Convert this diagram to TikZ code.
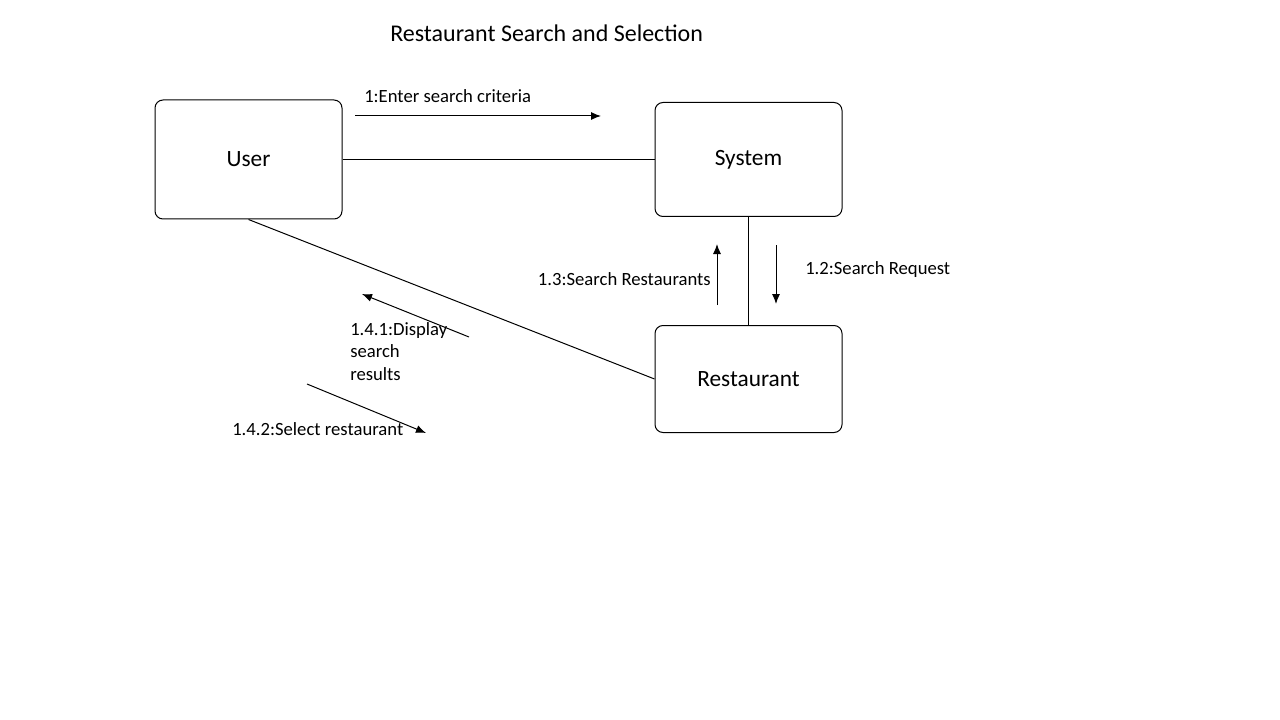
\documentclass[tikz,border=0pt]{standalone}
\usepackage{fontspec}
\setmainfont{Carlito}
\usepackage{tikz}
\usetikzlibrary{positioning, arrows.meta}

\begin{document}
\begin{tikzpicture}[x=0.75pt, y=-0.75pt,
				ObjNode/.style={rectangle, rounded corners=6pt, draw=black, line width=0.75pt, minimum width=140.25pt, font=\fontsize{17.5}{20}\selectfont},
				MsgArrow/.style={line width=0.75pt, -{Latex[length=7.5pt, width=6pt]}},
				MsgLabel/.style={inner sep=0pt, font=\fontsize{14}{17}\selectfont}]

			\useasboundingbox (0,0) rectangle (1280,720);

			% Nodes
			\node[ObjNode, minimum height=89.25pt] (User) at (248.5,159.5) {User};
			\node[ObjNode, minimum height=85.5pt, right=234pt of User.east, anchor=west] (System) {System};
			\node[ObjNode, minimum height=80.25pt, below=81pt of System] (Restaurant) {Restaurant};

			\node[MsgLabel, anchor=west, font=\fontsize{18}{21}\selectfont] (Title) at (390,33) {Restaurant Search and Selection};

			% Lines
			\draw[line width=0.75pt] (User.east) to (System.west);
			\draw[line width=0.75pt] (System.south) to (Restaurant.north);
			\draw[line width=0.75pt] (User.south) to (Restaurant.west);

			% Messages
			\coordinate (M1a) at (355,116);
			\coordinate (M1b) at (601,116);
			\draw[MsgArrow] (M1a) to (M1b);
			\node[MsgLabel, anchor=west] (L1) at (364,96) {1:Enter search criteria};

			\coordinate (M12a) at (776,245);
			\coordinate (M12b) at (776,304);
			\draw[MsgArrow] (M12a) to (M12b);
			\node[MsgLabel, anchor=west] (L12) at (805,270) {1.2:Search Request};

			\coordinate (M13a) at (717,305);
			\coordinate (M13b) at (717,244);
			\draw[MsgArrow] (M13a) to (M13b);
			\node[MsgLabel, anchor=east] (L13) at (711,279) {1.3:Search Restaurants};

			\coordinate (M141a) at (469,337);
			\coordinate (M141b) at (362,294);
			\draw[MsgArrow] (M141a) to (M141b);
			\node[MsgLabel, anchor=north west, align=left] (L141) at (350,322) {1.4.1:Display\\search\\results};

			\coordinate (M142a) at (307,384);
			\coordinate (M142b) at (426,433);
			\draw[MsgArrow] (M142a) to (M142b);
			\node[MsgLabel, anchor=west] (L142) at (232,429) {1.4.2:Select restaurant};
		\end{tikzpicture}
\end{document}
